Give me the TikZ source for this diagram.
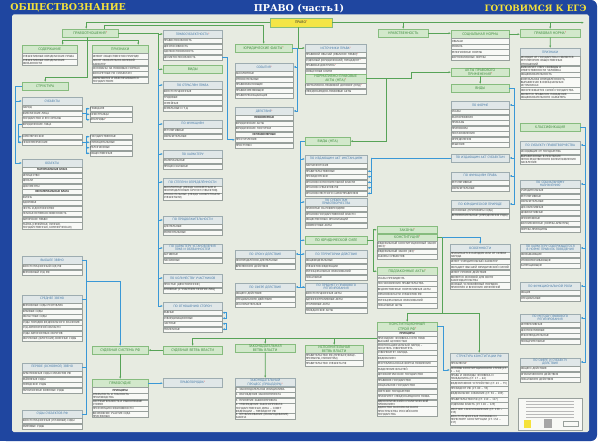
\documentclass[tikz,border=0pt]{standalone}
\usepackage{fontspec}
\setmainfont{PT Sans}
\newfontfamily\titlefont{DejaVu Serif}
\usetikzlibrary{positioning,arrows.meta}

\definecolor{frameblue}{HTML}{1F46A0}
\definecolor{panel}{HTML}{E7EBE1}
\definecolor{ghfill}{HTML}{D2E8CB}
\definecolor{ghdraw}{HTML}{86BC7E}
\definecolor{ghtext}{HTML}{3A8A3A}
\definecolor{lhfill}{HTML}{E0E7E8}
\definecolor{lhdraw}{HTML}{9DACB0}
\definecolor{lhtext}{HTML}{3C73A3}
\definecolor{itemfill}{HTML}{F8F9F6}
\definecolor{itemdraw}{HTML}{98A09C}
\definecolor{itemtext}{HTML}{2E2E2E}
\definecolor{glink}{HTML}{57A357}
\definecolor{blink}{HTML}{3A98D6}
\definecolor{pravoyellow}{HTML}{F4E547}
\definecolor{titleyellow}{HTML}{F5E23A}
\definecolor{zvred}{HTML}{E0262B}

\tikzset{
  >={Latex[length=1.2mm,width=1mm]},
  item/.style={draw=itemdraw, fill=itemfill, text=itemtext, line width=0.45pt,
    font=\fontsize{4.1}{4.6}\selectfont, align=left, inner xsep=0.8pt,
    inner ysep=0.5pt, minimum height=2.6mm},
  gh/.style={draw=ghdraw, fill=ghfill, text=ghtext, line width=0.6pt,
    font=\fontsize{5.2}{5.9}\selectfont, align=center, inner xsep=0.8pt,
    inner ysep=0.8pt, minimum height=4mm},
  lh/.style={draw=lhdraw, fill=lhfill, text=lhtext, line width=0.55pt,
    font=\fontsize{4.6}{5.2}\selectfont, align=center, inner xsep=0.8pt,
    inner ysep=0.8pt, minimum height=3.8mm},
  gline/.style={draw=glink, line width=1.2pt},
  bline/.style={draw=blink, line width=1pt},
  headline/.style={font=\titlefont\bfseries\fontsize{13.5}{14}\selectfont}
}

\newcommand\zv{\textcolor{zvred}{*}}
\newcommand\subh[1]{\hfill\textbf{#1}\hfill\null}
% one box: name, top left, width (px), style, text
\newcommand\single[5]{%
  \pgfmathsetmacro\rubw{#3*0.5-0.56}
  \node[#4, text width=\rubw mm, anchor=north west] (#1) at (#2) {#5};
}
% header with a list below it
\newcommand\rubric[6]{%
  \pgfmathsetmacro\rubw{#3*0.5-0.56}
  \node[#4, text width=\rubw mm, anchor=north west] (#1-0) at (#2) {#5};
  \foreach \txt [count=\i] in {#6}{
    \pgfmathtruncatemacro\j{\i-1}
    \node[item, text width=\rubw mm, below=0pt of #1-\j] (#1-\i) {\txt};
  }
}
% list without header
\newcommand\plain[4]{%
  \pgfmathsetmacro\rubw{#3*0.5-0.56}
  \path (#2) ++(#3/2,0) coordinate (#1-0);
  \foreach \txt [count=\i] in {#4}{
    \pgfmathtruncatemacro\j{\i-1}
    \node[item, text width=\rubw mm, below=0pt of #1-\j] (#1-\i) {\txt};
  }
}

\begin{document}
\begin{tikzpicture}[x=0.5mm,y=-0.5mm]
\useasboundingbox (0,0) rectangle (600,444);
\fill[white] (0,0) rectangle (600,444);
\fill[frameblue, rounded corners=3mm] (0,0) rectangle (597,441);
\fill[frameblue] (0,0) rectangle (30,441);
\fill[panel, rounded corners=0.8mm] (12,14.5) rectangle (589,432);

\node[headline, text=titleyellow, anchor=west] (obsh) at (8,8) {ОБЩЕСТВОЗНАНИЕ};
\node[headline, text=white] (tema) at (299,9) {ПРАВО (часть1)};
\node[headline, text=titleyellow, anchor=east, font=\titlefont\bfseries\fontsize{12.5}{13}\selectfont] (ege) at (589,8) {ГОТОВИМСЯ К ЕГЭ};

\node[draw=ghdraw, fill=pravoyellow, text=itemtext, font=\fontsize{5.2}{5.9}\selectfont,
  minimum width=31mm, minimum height=4.5mm, anchor=north west] (pravo) at (270,18) {ПРАВО\zv};
\coordinate (obor) at (584,0);

% left column
\single{pravootn}{62,29}{56}{gh}{ПРАВООТНОШЕНИЯ\zv}
\rubric{soderzh}{22,45}{55}{gh}{СОДЕРЖАНИЕ}{СУБЪЕКТИВНЫЕ ЮРИДИЧЕСКИЕ ПРАВА, СУБЪЕКТИВНЫЕ ЮРИДИЧЕСКИЕ ОБЯЗАННОСТИ}
\rubric{priznaki}{92,45}{56}{gh}{ПРИЗНАКИ}{ИМЕЮТ ОБЩЕСТВЕННУЮ ПРИРОДУ, НОСЯТ ОБЯЗАТЕЛЬНО-ВОЛЕВОЙ ХАРАКТЕР, ОСНОВАНЫ НА ПРАВОВЫХ НОРМАХ, КОНКРЕТНЫЕ ПО СУБЪЕКТАМ, ОХРАНЯЮТСЯ И ОБЕСПЕЧИВАЮТСЯ ГОСУДАРСТВОМ}
\single{struktura}{22,82}{46}{gh}{СТРУКТУРА}
\rubric{subjects}{22,97}{60}{lh}{СУБЪЕКТЫ}{НАРОД, ФИЗИЧЕСКИЕ ЛИЦА, ГОСУДАРСТВО И ЕГО ОРГАНЫ, ЮРИДИЧЕСКИЕ ЛИЦА}
\plain{fiz}{90,106}{42}{ГРАЖДАНЕ, ИНОСТРАНЦЫ, АПАТРИДЫ\zv}
\plain{komm}{22,134}{60}{КОММЕРЧЕСКИЕ, НЕКОММЕРЧЕСКИЕ}
\plain{nekomm}{90,134}{42}{ГОСУДАРСТВЕННЫЕ, МУНИЦИПАЛЬНЫЕ, РЕЛИГИОЗНЫЕ, ОБЩЕСТВЕННЫЕ}
\rubric{objects}{22,159}{60}{lh}{ОБЪЕКТЫ}{\subh{МАТЕРИАЛЬНЫЕ БЛАГА}, ИМУЩЕСТВО, ДЕНЬГИ, ДОКУМЕНТЫ, \subh{НЕМАТЕРИАЛЬНЫЕ БЛАГА}, ЖИЗНЬ, ЗДОРОВЬЕ, ЧЕСТЬ И ДОСТОИНСТВО, ЛИЧНАЯ НЕПРИКОСНОВЕННОСТЬ, АВТОРСКОЕ ПРАВО, {ТАЙНА (СЕМЕЙНАЯ, ЛИЧНАЯ, ГОСУДАРСТВЕННАЯ, КОММЕРЧЕСКАЯ)}}
\rubric{vysshee}{22,256}{60}{lh}{ВЫСШЕЕ ЗВЕНО}{КОНСТИТУЦИОННЫЙ СУД РФ, ВЕРХОВНЫЙ СУД РФ}
\rubric{srednee}{22,295}{60}{lh}{СРЕДНЕЕ ЗВЕНО}{ВЕРХОВНЫЕ СУДЫ РЕСПУБЛИК, КРАЕВЫЕ СУДЫ, ОБЛАСТНЫЕ СУДЫ, СУДЫ ГОРОДОВ ФЕДЕРАЛЬНОГО ЗНАЧЕНИЯ, СУД АВТОНОМНОЙ ОБЛАСТИ, СУДЫ АВТОНОМНЫХ ОКРУГОВ, ОКРУЖНЫЕ (ФЛОТСКИЕ) ВОЕННЫЕ СУДЫ}
\rubric{pervoe}{22,363}{60}{lh}{ПЕРВОЕ (ОСНОВНОЕ) ЗВЕНО}{АРБИТРАЖНЫЕ СУДЫ СУБЪЕКТОВ РФ, РАЙОННЫЕ СУДЫ, ГОРОДСКИЕ СУДЫ, ГАРНИЗОННЫЕ ВОЕННЫЕ СУДЫ}
\rubric{subrf}{22,410}{60}{lh}{СУДЫ СУБЪЕКТОВ РФ}{КОНСТИТУЦИОННЫЕ (УСТАВНЫЕ) СУДЫ, МИРОВЫЕ СУДЫ}
\single{sudsys}{92,346}{56}{gh}{СУДЕБНАЯ СИСТЕМА РФ}
\rubric{pravosudie}{92,379}{56}{gh}{ПРАВОСУДИЕ}{\subh{ПРИНЦИПЫ}, ОТКРЫТОСТЬ И ГЛАСНОСТЬ ПРОИЗВОДСТВА, СОСТЯЗАТЕЛЬНОСТЬ И РАВНОПРАВИЕ СТОРОН, ПРЕЗУМПЦИЯ НЕВИНОВНОСТИ, ВОЗМОЖНОЕ УЧАСТИЕ СУДА ПРИСЯЖНЫХ}

% second column
\rubric{pravosub}{163,30}{59}{lh}{ПРАВОСУБЪЕКТНОСТЬ\zv}{ПРАВОСПОСОБНОСТЬ, ДЕЕСПОСОБНОСТЬ, СДЕЛКОСПОСОБНОСТЬ, ДЕЛИКТОСПОСОБНОСТЬ}
\single{vidy}{163,65}{59}{gh}{ВИДЫ}
\rubric{otrasl}{163,81}{59}{lh}{ПО ОТРАСЛЯМ ПРАВА}{КОНСТИТУЦИОННЫЕ, ТРУДОВЫЕ, СЕМЕЙНЫЕ, ЗЕМЕЛЬНЫЕ И Т.Д.}
\rubric{funk}{163,120}{59}{lh}{ПО ФУНКЦИЯМ}{РЕГУЛЯТИВНЫЕ, ОХРАНИТЕЛЬНЫЕ}
\rubric{harakter}{163,150}{59}{lh}{ПО ХАРАКТЕРУ}{МАТЕРИАЛЬНЫЕ, ПРОЦЕССУАЛЬНЫЕ}
\rubric{opred}{163,178}{59}{lh}{ПО СТЕПЕНИ ОПРЕДЕЛЁННОСТИ}{АБСОЛЮТНЫЕ (МЕЖДУ КОНКРЕТНЫМ И НЕОПРЕДЕЛЁННЫМ КРУГОМ СУБЪЕКТОВ), ОТНОСИТЕЛЬНЫЕ (МЕЖДУ КОНКРЕТНЫМИ СУБЪЕКТАМИ)}
\rubric{prodolzh}{163,216}{59}{lh}{ПО ПРОДОЛЖИТЕЛЬНОСТИ}{ДЛИТЕЛЬНЫЕ, МОМЕНТАЛЬНЫЕ}
\rubric{ustanov}{163,244}{59}{lh}{ПО ХАРАКТЕРУ УСТАНОВЛЕНИЯ\\ПРАВ И ОБЯЗАННОСТЕЙ}{АКТИВНЫЕ, ПАССИВНЫЕ}
\rubric{kolvo}{163,274}{59}{lh}{ПО КОЛИЧЕСТВУ УЧАСТНИКОВ}{ПРОСТЫЕ (ДВУСТОРОННИЕ), СЛОЖНЫЕ (С УЧАСТИЕМ МНОГИХ ЛИЦ)}
\rubric{storony}{163,302}{59}{lh}{ПО ОТНОШЕНИЮ СТОРОН}{РАВНЫЕ, СУБОРДИНАЦИОННЫЕ, ЧАСТНЫЕ, ПУБЛИЧНЫЕ}
\single{sudvetv}{163,346}{59}{gh}{СУДЕБНАЯ ВЕТВЬ ВЛАСТИ}
\single{pravoporyadok}{163,378}{59}{lh, minimum height=4.5mm}{ПРАВОПОРЯДОК\zv}

% third column
\single{yurfakty}{235,44}{57}{gh}{ЮРИДИЧЕСКИЕ ФАКТЫ\zv}
\rubric{sobytiya}{235,63}{58}{lh}{СОБЫТИЯ\zv}{АБСОЛЮТНЫЕ, ОТНОСИТЕЛЬНЫЕ, ПРАВООБРАЗУЮЩИЕ, ПРАВОИЗМЕНЯЮЩИЕ, ПРАВОПРЕКРАЩАЮЩИЕ}
\rubric{deystviya}{235,107}{58}{lh}{ДЕЙСТВИЯ\zv}{\subh{ПРАВОМЕРНЫЕ}, ЮРИДИЧЕСКИЕ АКТЫ, ЮРИДИЧЕСКИЕ ПОСТУПКИ, \subh{НЕПРАВОМЕРНЫЕ}, ПРЕСТУПЛЕНИЯ, ПРОСТУПКИ}
\rubric{srok}{235,250}{60}{lh}{ПО СРОКУ ДЕЙСТВИЯ}{НЕОПРЕДЕЛЁННО-ДЛИТЕЛЬНЫЕ, ВРЕМЕННОГО ДЕЙСТВИЯ}
\rubric{sfera}{235,283}{60}{lh}{ПО СФЕРЕ ДЕЙСТВИЯ}{ОБЩЕГО ДЕЙСТВИЯ, СПЕЦИАЛЬНОГО ДЕЙСТВИЯ, ИСКЛЮЧИТЕЛЬНЫЕ}
\single{zakonvetv}{235,344}{60}{gh}{ЗАКОНОДАТЕЛЬНАЯ\\ВЕТВЬ ВЛАСТИ}
\rubric{zakproc}{235,378}{60}{lh}{ЗАКОНОДАТЕЛЬНЫЙ\\ПРОЦЕСС (ПРОЦЕДУРА)\zv}{1. ЗАКОНОДАТЕЛЬНАЯ ИНИЦИАТИВА, 2. ОБСУЖДЕНИЕ ЗАКОНОПРОЕКТА, 3. ПРИНЯТИЕ ЗАКОНОПРОЕКТА, {4. УТВЕРЖДЕНИЕ ЗАКОНОПРОЕКТА: ГОСУДАРСТВЕННАЯ ДУМА – СОВЕТ ФЕДЕРАЦИИ – ПРЕЗИДЕНТ РФ}, {5. ОПУБЛИКОВАНИЕ (ОБНАРОДОВАНИЕ) ЗАКОНА}}

% fourth column
\rubric{istochniki}{305,44}{61}{lh}{ИСТОЧНИКИ ПРАВА\zv}{ПРАВОВОЙ ОБЫЧАЙ (ОБЫЧНОЕ ПРАВО)\zv, СУДЕБНЫЙ (ЮРИДИЧЕСКИЙ) ПРЕЦЕДЕНТ\zv, ПРАВОВАЯ ДОКТРИНА\zv, СВЯЩЕННЫЕ КНИГИ}
\pgfmathsetmacro\rubw{61*0.5-0.56}
\node[gh, text width=\rubw mm, below=0pt of istochniki-4] (npa) {НОРМАТИВНО-ПРАВОВЫЕ\\АКТЫ (НПА)\zv};
\plain{npad}{npa.south west}{61}{НОРМАТИВНО-ПРАВОВОЙ ДОГОВОР (НПД)\zv, МЕЖДУНАРОДНО-ПРАВОВЫЕ АКТЫ}
\single{vidynpa}{305,137}{45}{gh}{ВИДЫ (НПА)}
\rubric{izdinst}{305,155}{62}{lh}{ПО ИЗДАЮЩИМ АКТ ИНСТАНЦИЯМ}{ПАРЛАМЕНТСКИЕ, ПРАВИТЕЛЬСТВЕННЫЕ, ПРЕЗИДЕНТСКИЕ, ОРГАНОВ ИСПОЛНИТЕЛЬНОЙ ВЛАСТИ, ОРГАНОВ СУБЪЕКТОВ РФ, ОРГАНОВ МЕСТНОГО САМОУПРАВЛЕНИЯ}
\rubric{subtvor}{305,198}{62}{lh}{ПО СУБЪЕКТАМ\\ПРАВОТВОРЧЕСТВА}{ПРИНЯТЫЕ НА РЕФЕРЕНДУМЕ, ОРГАНОВ ГОСУДАРСТВЕННОЙ ВЛАСТИ, ОБЩЕСТВЕННЫХ ОРГАНИЗАЦИЙ, СОВМЕСТНЫЕ АКТЫ}
\single{yursila}{305,236}{62}{gh}{ПО ЮРИДИЧЕСКОЙ СИЛЕ}
\rubric{territ}{305,250}{62}{lh}{ПО ТЕРРИТОРИИ ДЕЙСТВИЯ}{ОБЩЕФЕДЕРАЛЬНЫЕ, СУБЪЕКТОВ ФЕДЕРАЦИИ, МУНИЦИПАЛЬНЫХ ОБРАЗОВАНИЙ, ЛОКАЛЬНЫЕ}
\rubric{predmet}{305,283}{62}{lh}{ПО ПРЕДМЕТУ ПРАВОВОГО\\РЕГУЛИРОВАНИЯ}{КОНСТИТУЦИОННЫЕ АКТЫ, АДМИНИСТРАТИВНЫЕ АКТЫ, УГОЛОВНЫЕ АКТЫ, ГРАЖДАНСКИЕ АКТЫ}
\rubric{ispvetv}{305,345}{58}{gh}{ИСПОЛНИТЕЛЬНАЯ\\ВЕТВЬ ВЛАСТИ}{{ПРАВИТЕЛЬСТВО РФ (ПРЕМЬЕР, ВИЦЕ-ПРЕМЬЕРЫ, МИНИСТРЫ)}, ПРАВИТЕЛЬСТВО СУБЪЕКТА РФ}

% fifth column
\single{nravstv}{378,29}{50}{gh}{НРАВСТВЕННОСТЬ}
\single{zakony}{377,226}{60}{gh, minimum height=3.6mm}{ЗАКОНЫ\zv}
\pgfmathsetmacro\rubw{60*0.5-0.56}
\node[gh, minimum height=3.6mm, text width=\rubw mm, below=0pt of zakony] (konst) {КОНСТИТУЦИЯ\zv};
\plain{fkz}{konst.south west}{60}{ФЕДЕРАЛЬНЫЙ КОНСТИТУЦИОННЫЙ ЗАКОН (ФКЗ)\zv, ФЕДЕРАЛЬНЫЙ ЗАКОН (ФЗ)\zv, ЗАКОНЫ СУБЪЕКТОВ}
\rubric{podzak}{377,267}{60}{gh}{ПОДЗАКОННЫЕ АКТЫ\zv}{УКАЗЫ ПРЕЗИДЕНТА, ПОСТАНОВЛЕНИЯ ПРАВИТЕЛЬСТВА, ВЕДОМСТВЕННЫЕ НОРМАТИВНЫЕ АКТЫ, ОРГАНОВ ВЛАСТИ СУБЪЕКТОВ РФ, МУНИЦИПАЛЬНЫХ ОБРАЗОВАНИЙ, ЛОКАЛЬНЫЕ АКТЫ}
\rubric{konststroy}{377,322}{60}{gh}{КОНСТИТУЦИОННЫЙ\\СТРОЙ РФ\zv}{\subh{ПРИНЦИПЫ}, ПРИЗНАНИЕ ЧЕЛОВЕКА И ЕГО ПРАВ ВЫСШЕЙ ЦЕННОСТЬЮ, МНОГОНАЦИОНАЛЬНЫЙ НАРОД – НОСИТЕЛЬ СУВЕРЕНИТЕТА, СУВЕРЕНИТЕТ НАРОДА, ФЕДЕРАЛИЗМ, РЕСПУБЛИКАНСКАЯ ФОРМА ПРАВЛЕНИЯ, РАЗДЕЛЕНИЕ ВЛАСТЕЙ, ДЕМОКРАТИЧЕСКОЕ ГОСУДАРСТВО, ПРАВОВОЕ ГОСУДАРСТВО, СОЦИАЛЬНОЕ ГОСУДАРСТВО, СВЕТСКОЕ ГОСУДАРСТВО, ПРИОРИТЕТ МЕЖДУНАРОДНОГО ПРАВА, ИДЕОЛОГИЧЕСКИЙ И ПОЛИТИЧЕСКИЙ ПЛЮРАЛИЗМ, ЕДИНСТВО ЭКОНОМИЧЕСКОГО ПРОСТРАНСТВА РОССИЙСКОГО ГОСУДАРСТВА}

% sixth column
\rubric{socnorma}{451,30}{58}{gh}{СОЦИАЛЬНАЯ НОРМА}{ОБЫЧАИ, МОРАЛЬ, РЕЛИГИОЗНЫЕ НОРМЫ, КОРПОРАТИВНЫЕ НОРМЫ}
\single{aktyprim}{451,68}{58}{gh}{АКТЫ ПРАВОВОГО\\ПРИМЕНЕНИЯ\zv}
\single{vidyakt}{451,84}{58}{gh}{ВИДЫ}
\rubric{forma}{451,101}{58}{lh}{ПО ФОРМЕ}{УКАЗЫ, РАСПОРЯЖЕНИЯ, ПРИКАЗЫ, ПРИГОВОРЫ, ПОСТАНОВЛЕНИЯ, ОПРЕДЕЛЕНИЯ, РЕШЕНИЯ}
\single{izdsub}{451,154}{58}{lh}{ПО ИЗДАЮЩИМ АКТ СУБЪЕКТАМ}
\rubric{funkprava}{451,172}{58}{lh}{ПО ФУНКЦИЯМ ПРАВА}{РЕГУЛЯТИВНЫЕ, ОХРАНИТЕЛЬНЫЕ}
\rubric{yurpriroda}{451,200}{58}{lh}{ПО ЮРИДИЧЕСКОЙ ПРИРОДЕ}{ОСНОВНЫЕ (ПРИГОВОРЫ СУДА), ВСПОМОГАТЕЛЬНЫЕ (ОПРЕДЕЛЕНИЯ СУДА)}
\rubric{osobennosti}{450,244}{60}{lh}{ОСОБЕННОСТИ}{ПРИНИМАЕТСЯ НАРОДОМ ИЛИ ОТ ИМЕНИ НАРОДА, ИМЕЕТ УЧРЕДИТЕЛЬНЫЙ ХАРАКТЕР, ОБЛАДАЕТ ВЫСШЕЙ ЮРИДИЧЕСКОЙ СИЛОЙ, ИМЕЕТ ПРЯМОЕ ДЕЙСТВИЕ, ЯВЛЯЕТСЯ ОСНОВОЙ ДЛЯ ВСЕГО ЗАКОНОДАТЕЛЬСТВА, {ОСОБЫЙ, УСЛОЖНЁННЫЙ ПОРЯДОК ПРИНЯТИЯ И ВНЕСЕНИЯ ИЗМЕНЕНИЙ}}
\rubric{strukkonst}{450,353}{58}{lh}{СТРУКТУРА КОНСТИТУЦИИ РФ}{ПРЕАМБУЛА\zv, ОСНОВЫ КОНСТИТУЦИОННОГО СТРОЯ (СТ. 1 – 16), ПРАВА И СВОБОДЫ ЧЕЛОВЕКА И ГРАЖДАНИНА (СТ. 17 – 64), ФЕДЕРАТИВНОЕ УСТРОЙСТВО (СТ. 65 – 79), ПРЕЗИДЕНТ РФ (СТ. 80 – 93), ФЕДЕРАЛЬНОЕ СОБРАНИЕ (СТ. 94 – 109), ПРАВИТЕЛЬСТВО РФ (СТ. 110 – 117), СУДЕБНАЯ ВЛАСТЬ (СТ. 118 – 129), МЕСТНОЕ САМОУПРАВЛЕНИЕ (СТ. 130 – 133), КОНСТИТУЦИОННЫЕ ПОПРАВКИ И ПЕРЕСМОТР КОНСТИТУЦИИ (СТ. 134 – 137)}

% seventh column
\single{pravnorma}{520,29}{60}{gh}{ПРАВОВАЯ НОРМА\zv}
\rubric{priznakinorm}{520,48}{60}{lh}{ПРИЗНАКИ}{ИСХОДИТ ОТ ГОСУДАРСТВА И ЯВЛЯЕТСЯ РЕГУЛЯТОРОМ ОБЩЕСТВЕННЫХ ОТНОШЕНИЙ, ФИКСИРУЕТ МЕРУ СВОБОДЫ И ОТВЕТСТВЕННОСТИ ЧЕЛОВЕКА, ОБЩЕОБЯЗАТЕЛЬНОСТЬ, {ФОРМАЛЬНАЯ ОПРЕДЕЛЁННОСТЬ, ВЫРАЖЕННАЯ В ОФИЦИАЛЬНЫХ ИСТОЧНИКАХ}, ОБЕСПЕЧИВАЕТСЯ СИЛОЙ ГОСУДАРСТВА, ЯВЛЯЕТСЯ ПРАВИЛОМ ПОВЕДЕНИЯ ОБЩЕОБЯЗАТЕЛЬНОГО ХАРАКТЕРА}
\single{klassif}{520,123}{60}{gh}{КЛАССИФИКАЦИЯ}
\rubric{posubj}{520,141}{60}{lh}{ПО СУБЪЕКТУ ПРАВОТВОРЧЕСТВА}{ИСХОДЯЩИЕ ОТ ГОСУДАРСТВА, ВЫРАБОТАННЫЕ В РЕЗУЛЬТАТЕ НЕПОСРЕДСТВЕННОГО ВОЛЕИЗЪЯВЛЕНИЯ НАСЕЛЕНИЯ}
\rubric{socnazn}{520,180}{60}{lh}{ПО СОЦИАЛЬНОМУ\\НАЗНАЧЕНИЮ}{УЧРЕДИТЕЛЬНЫЕ, РЕГУЛЯТИВНЫЕ, ОХРАНИТЕЛЬНЫЕ, ДЕКЛАРАТИВНЫЕ, ДЕФИНИТИВНЫЕ, ОПЕРАТИВНЫЕ, КОЛЛИЗИОННЫЕ (НОРМЫ-АРБИТРЫ), НОРМЫ-ПРИНЦИПЫ}
\rubric{pravilo}{520,244}{60}{lh}{ПО ХАРАКТЕРУ СОДЕРЖАЩЕГОСЯ\\В НОРМЕ ПРАВИЛА ПОВЕДЕНИЯ}{ОБЯЗЫВАЮЩИЕ, УПРАВОМОЧИВАЮЩИЕ, ЗАПРЕЩАЮЩИЕ}
\rubric{funkrol}{520,282}{60}{lh}{ПО ФУНКЦИОНАЛЬНОЙ РОЛИ}{ОБЩИЕ, СПЕЦИАЛЬНЫЕ}
\rubric{metod}{520,314}{60}{lh}{ПО МЕТОДУ ПРАВОВОГО\\РЕГУЛИРОВАНИЯ}{ИМПЕРАТИВНЫЕ, ДИСПОЗИТИВНЫЕ, РЕКОМЕНДАТЕЛЬНЫЕ, ПООЩРИТЕЛЬНЫЕ}
\rubric{sferasubj}{520,358}{60}{lh}{ПО СФЕРЕ И СУБЪЕКТУ\\ДЕЙСТВИЯ}{ОБЩЕГО ДЕЙСТВИЯ, ОГРАНИЧЕННОГО ДЕЙСТВИЯ, ЛОКАЛЬНОГО ДЕЙСТВИЯ}

% imprint box
\node[draw=itemdraw, fill=itemfill, minimum width=32mm, minimum height=16mm, anchor=north west, inner sep=0pt] (info) at (518,398) {};
\foreach \k in {1,...,6}
  \draw[gray!55, line width=0.5pt] ([xshift=4mm,yshift=-\k*1.6mm]info.north west) -- ([xshift=-4mm,yshift=-\k*1.6mm]info.north east);
\fill[titleyellow] ([xshift=3mm,yshift=1mm]info.south west) rectangle ++(7,-8);
\fill[gray!70] ([xshift=13mm,yshift=1mm]info.south west) rectangle ++(8,-9);
\draw[itemdraw] ([xshift=-2mm,yshift=2mm]info.south east) rectangle ++(-15,-5);

% green connectors
\draw[gline,->] (pravo.west) -| ([xshift=-2mm]pravootn.north);
\draw[gline,->] ([xshift=7mm]pravootn.north) -- ++(0,-4) -| (yurfakty.north);
\draw[gline,->] (pravootn.east) -- ++(40,0) coordinate (jv) |- (pravosub-0.west);
\draw[gline,->] (jv) |- (vidy.west);
\draw[gline,->] ([xshift=-1.5mm]pravootn.south) -- ++(0,40) -| (struktura.north);
\draw[gline,<->] ([xshift=6.5mm]soderzh-0.north) -- ++(0,-5) -| ([xshift=9mm]priznaki-0.north);
\draw[gline,->] (pravo.east) -| (pravnorma.north);
\draw[gline,->] (pravo.east) -| (nravstv.north);
\draw[gline,->] (pravo.east) -- (pravo.east -| obor);
\draw[gline,->] ([xshift=-1.5mm]pravo.south) |- (istochniki-0.west);
\draw[gline,->] (nravstv.east) -- (nravstv.east -| socnorma-0.west);
\draw[gline,->] (socnorma-0.east) -- (socnorma-0.east -| pravnorma.west);
\draw[gline,->] (pravnorma.south) -- (priznakinorm-0.north);
\draw[gline,->] (npa.east) -- ++(45,0) |- (aktyprim.west);
\draw[gline,->] (npa.east) -- ++(20,0) |- (vidynpa.east);
\draw[gline,->] (aktyprim.south) -- (vidyakt.north);
\draw[gline,->] (yursila.east) -- ++(6,0) coordinate (js) |- (zakony.west);
\draw[gline,->] (js) |- (podzak-0.west);
\draw[gline] (konst.east) -- ++(5,0) coordinate (jk) -- ++(0,76) coordinate (jk2);
\draw[gline,->] (jk2) -| (konststroy-0.north);
\draw[gline,->] (jk2) -| (strukkonst-0.north);
\draw[gline] (sudvetv.north) ++(0,-8) coordinate (jp) -- (jp -| konststroy-0.west);
\draw[gline,->] (jp) -- (sudvetv.north);
\draw[gline,->] (jp -| zakonvetv.north) -- (zakonvetv.north);
\draw[gline,->] (jp -| ispvetv-0.north) -- (ispvetv-0.north);
\draw[gline,->] (sudvetv.west) -- (sudvetv.west -| sudsys.east);
\draw[gline,->] (sudsys.south) -- (pravosudie-0.north);
\draw[gline,->] (zakonvetv.south) -- (zakproc-0.north);

% blue connectors
\draw[bline,->] (struktura.west) -- ++(-7,0) coordinate (jst) |- (objects-0.west);
\draw[bline,->] (jst) |- (subjects-0.west);
\draw[bline] (subjects-2.east) -- ++(4,0) coordinate (jf);
\foreach \k in {1,2,3} \draw[bline,->] (jf) |- (fiz-\k.west);
\draw[bline] (subjects-4.west) -- ++(-4,0) coordinate (jy);
\foreach \k in {1,2} \draw[bline,->] (jy) |- (komm-\k.west);
\draw[bline] (komm-2.east) -- ++(4,0) coordinate (jn);
\foreach \k in {1,...,4} \draw[bline,->] (jn) |- (nekomm-\k.west);
\draw[bline] ([xshift=-2.5mm]vidy.west) -- ([xshift=-2.5mm]storony-0.west);
\foreach \n in {otrasl,funk,harakter,opred,prodolzh,ustanov,kolvo,storony}
  \draw[bline,->] ([xshift=-2.5mm]\n-0.west) -- (\n-0.west);
\draw[bline,<->] (storony-1.east) -- ++(4,0) |- (storony-2.east);
\draw[bline,<->] (storony-3.east) -- ++(4,0) |- (storony-4.east);
\draw[bline,->] (pravosub-4.east) -- ++(5,0) |- (deystviya-5.west);
\draw[bline] (yurfakty.east) -- ++(5,0) coordinate (jyf);
\draw[bline,->] (jyf) |- (sobytiya-0.east);
\draw[bline,->] (jyf) |- (deystviya-0.east);
\draw[bline] (vidynpa.west) -- ++(-5,0) coordinate (jn1) |- (predmet-0.west);
\foreach \n in {izdinst,subtvor,territ,predmet}
  \draw[bline,->] (jn1) |- (\n-0.west);
\draw[bline,->] (jn1) |- (yursila.west);
\draw[bline,->] (jn1) |- (srok-0.east);
\draw[bline,->] (jn1) |- (sfera-0.east);
\path ([xshift=2mm]izdinst-0.east) coordinate (ji);
\draw[bline] (izdsub.west) -- (izdsub.west -| ji) coordinate (ji2);
\foreach \k in {2,...,6} \draw[bline,->] (ji2) |- (izdinst-\k.east);
\draw[bline] (vidyakt.east) -- ++(5,0) coordinate (jva);
\draw[bline,->] (jva) |- (forma-0.east);
\draw[bline,->] (jva) |- (izdsub.east);
\draw[bline,->] (jva) |- (funkprava-0.east);
\draw[bline,->] (jva) |- (yurpriroda-0.east);
\draw[bline] (klassif.east) -- ++(5,0) coordinate (jkl);
\foreach \n in {posubj,socnazn,pravilo,funkrol,metod,sferasubj}
  \draw[bline,->] (jkl) |- (\n-0.east);
\draw[bline,->] (jk) -| (osobennosti-0.north);
\draw[bline,->] (konststroy-0.east) -- ++(6,0) |- (strukkonst-2.west);
\draw[bline,->] (pravosudie-0.east) -- (pravosudie-0.east -| pravoporyadok.west);
\draw[bline] (vysshee-0.east) -- ++(4,0) coordinate (jc) |- (subrf-0.east);
\draw[bline] (jc) |- (srednee-0.east);
\draw[bline] (jc) |- (pervoe-0.east);
\draw[bline,->] (jc) ++(0,21) -| (sudsys.north);
\end{tikzpicture}
\end{document}
